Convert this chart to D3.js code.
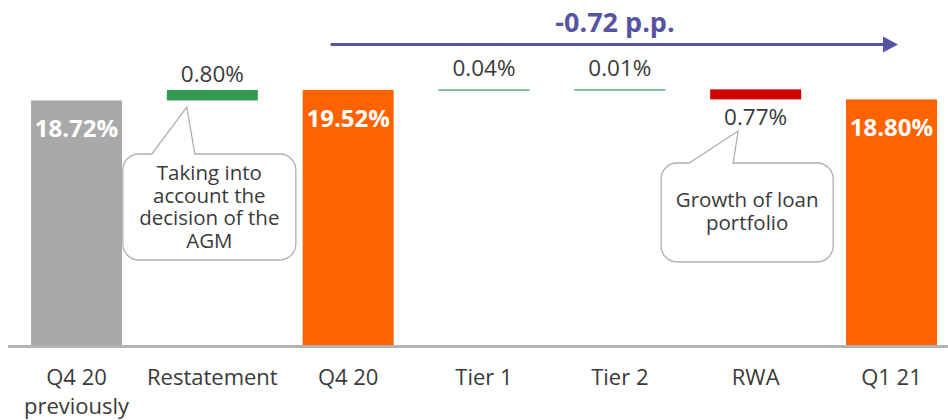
<!DOCTYPE html>
<html>
<head>
<meta charset="utf-8">
<script src="https://cdn.jsdelivr.net/npm/d3@7"></script>
<style>
  html, body { margin: 0; padding: 0; background: #fff; }
  svg { display: block; font-family: "Open Sans", "Noto Sans", sans-serif; }
</style>
</head>
<body>
<svg id="chart" width="948" height="420"></svg>
<script>
// categories and values (percentage points)
const categories = ["Q4 20 previously", "Restatement", "Q4 20", "Tier 1", "Tier 2", "RWA", "Q1 21"];
const labelLines = [["Q4 20", "previously"], ["Restatement"], ["Q4 20"], ["Tier 1"], ["Tier 2"], ["RWA"], ["Q1 21"]];
const kinds = ["total", "delta", "total", "delta", "delta", "delta", "total"];
const values = [18.72, 0.80, 19.52, 0.04, 0.01, -0.77, 18.80];
const valueLabels = ["18.72%", "0.80%", "19.52%", "0.04%", "0.01%", "0.77%", "18.80%"];
const colors = ["#a9a9a9", "#349a50", "#ff6200", "#349a50", "#349a50", "#d40000", "#ff6200"];
const changeLabel = "-0.72 p.p.";
const notes = [
  { idx: 1, lines: ["Taking into", "account the", "decision of the", "AGM"] },
  { idx: 5, lines: ["Growth of loan", "portfolio"] }
];

const width = 948, height = 420;
const baseY = 345, topY = 90;
const svg = d3.select("#chart");

const x = d3.scaleBand()
  .domain(categories)
  .range([8.6, 959.4])
  .paddingInner(0.33)
  .paddingOuter(0.165);

const y = d3.scaleLinear()
  .domain([0, 19.52])
  .range([baseY, topY]);

// waterfall: compute start/end for each step
let running = 0;
const steps = categories.map((c, i) => {
  let start, end;
  if (kinds[i] === "total") { start = 0; end = values[i]; running = values[i]; }
  else { start = running; end = running + values[i]; running = end; }
  const thin = kinds[i] === "delta" && Math.abs(values[i]) < 0.1;
  return { cat: c, kind: kinds[i], start, end, thin, value: values[i], label: valueLabels[i], color: colors[i] };
});

const g = svg.append("g");

// bars
g.selectAll("rect.bar")
  .data(steps)
  .join("rect")
  .attr("class", "bar")
  .attr("x", d => x(d.cat))
  .attr("width", x.bandwidth())
  .attr("y", d => d.thin ? y(d.end) : y(Math.max(d.start, d.end)))
  .attr("height", d => d.thin ? 1.2 : Math.abs(y(d.start) - y(d.end)))
  .attr("fill", d => d.color);

// baseline
svg.append("line")
  .attr("x1", 8).attr("x2", width)
  .attr("y1", baseY + 1.5).attr("y2", baseY + 1.5)
  .attr("stroke", "#b3b3b3")
  .attr("stroke-width", 3);

// value labels
g.selectAll("text.val")
  .data(steps)
  .join("text")
  .attr("class", "val")
  .attr("x", d => x(d.cat) + x.bandwidth() / 2)
  .attr("y", d => {
    if (d.kind === "total") return y(d.end) + 37;
    if (d.value < 0) return y(d.end) + 26;
    return y(d.end) - (d.thin ? 13 : 8);
  })
  .attr("text-anchor", "middle")
  .attr("font-size", d => d.kind === "total" ? 24 : 22.5)
  .attr("font-weight", d => d.kind === "total" ? 700 : 400)
  .attr("fill", d => d.kind === "total" ? "#fff" : "#3a3a3a")
  .text(d => d.label);

// category labels
const cat = g.selectAll("text.cat")
  .data(steps)
  .join("text")
  .attr("class", "cat")
  .attr("x", d => x(d.cat) + x.bandwidth() / 2)
  .attr("y", 385)
  .attr("text-anchor", "middle")
  .attr("font-size", 22)
  .attr("fill", "#3a3a3a");
cat.selectAll("tspan")
  .data((d, i) => labelLines[i])
  .join("tspan")
  .attr("x", function () { return d3.select(this.parentNode).attr("x"); })
  .attr("dy", (d, i) => i === 0 ? 0 : 29)
  .text(d => d);

// change arrow
const arrowY = 44.5;
const ax0 = x("Q4 20") + 28, ax1 = x("Q1 21") + 52;
svg.append("line")
  .attr("x1", ax0).attr("x2", ax1 - 12)
  .attr("y1", arrowY).attr("y2", arrowY)
  .attr("stroke", "#5654a2").attr("stroke-width", 3);
svg.append("path")
  .attr("d", d3.line()([[ax1 - 15, arrowY - 8], [ax1, arrowY], [ax1 - 15, arrowY + 8]]) + "Z")
  .attr("fill", "#5654a2");
svg.append("text")
  .attr("x", 615)
  .attr("y", 32)
  .attr("text-anchor", "middle")
  .attr("font-size", 27)
  .attr("font-weight", 700)
  .attr("fill", "#5654a2")
  .text(changeLabel);

// callouts
function callout(box, tip, base0, base1, lines, lineH, firstY) {
  const r = 16;
  const { x0, y0, x1, y1 } = box;
  const p = d3.path();
  p.moveTo(x0 + r, y0);
  p.lineTo(base0, y0);
  p.lineTo(tip[0], tip[1]);
  p.lineTo(base1, y0);
  p.lineTo(x1 - r, y0);
  p.arcTo(x1, y0, x1, y0 + r, r);
  p.lineTo(x1, y1 - r);
  p.arcTo(x1, y1, x1 - r, y1, r);
  p.lineTo(x0 + r, y1);
  p.arcTo(x0, y1, x0, y1 - r, r);
  p.lineTo(x0, y0 + r);
  p.arcTo(x0, y0, x0 + r, y0, r);
  p.closePath();
  svg.append("path")
    .attr("d", p.toString())
    .attr("fill", "#fff")
    .attr("stroke", "#b0b0b0")
    .attr("stroke-width", 1.3);
  const cx = (x0 + x1) / 2;
  svg.append("text")
    .attr("x", cx)
    .attr("y", firstY)
    .attr("text-anchor", "middle")
    .attr("font-size", 20.5)
    .attr("fill", "#3a3a3a")
    .selectAll("tspan")
    .data(lines)
    .join("tspan")
    .attr("x", cx)
    .attr("dy", (d, i) => i === 0 ? 0 : lineH)
    .text(d => d);
}

const n1 = x(categories[notes[0].idx]);
callout({ x0: n1 - 44, y0: 154, x1: n1 + 129, y1: 260 },
  [n1 + 20, 107], n1 - 15, n1 + 28, notes[0].lines, 22.7, 180);
const n2 = x(categories[notes[1].idx]);
callout({ x0: n2 - 49, y0: 163, x1: n2 + 123, y1: 262 },
  [n2 + 28, 131], n2 - 21, n2 + 23, notes[1].lines, 23, 207);
</script>
</body>
</html>
